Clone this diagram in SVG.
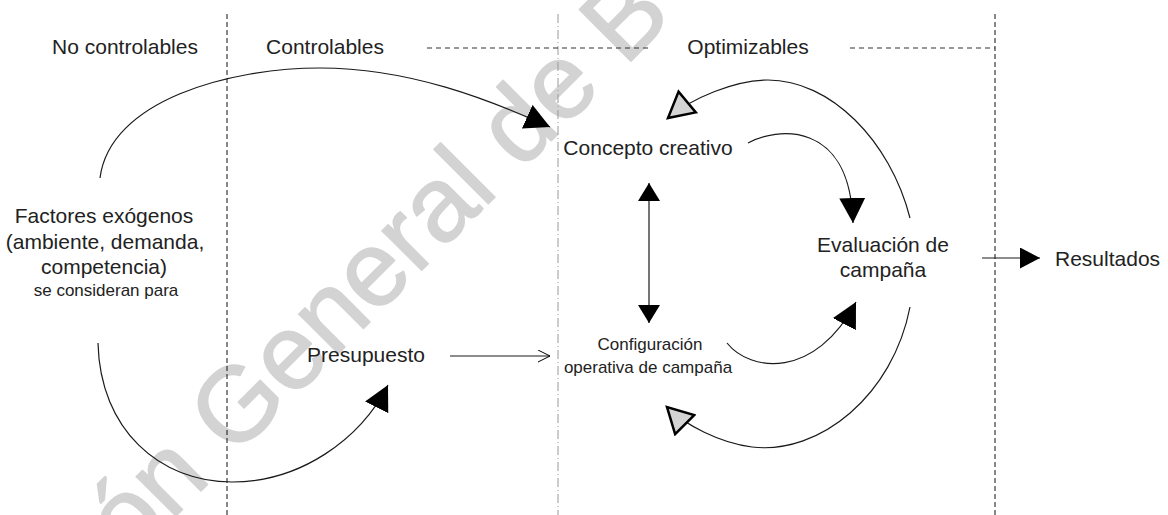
<svg xmlns="http://www.w3.org/2000/svg" width="1168" height="515" viewBox="0 0 1168 515">
<style>
  .lbl { font-family: "Liberation Sans", Arial, sans-serif; font-size: 21px; fill: #222; }
  .sm { font-size: 17px; }
  .mid { text-anchor: middle; }
  .wm { font-family: "Liberation Sans", Arial, sans-serif; font-size: 106px; fill: #d3d3d3; stroke: #d3d3d3; stroke-width: 1.5; stroke-linejoin: round; }
  .div { fill: none; stroke: #111; stroke-width: 1; stroke-dasharray: 5 3; }
  .dd { fill: none; stroke: #999; stroke-width: 1; stroke-dasharray: 9 3 1 3; }
  .hd { fill: none; stroke: #333; stroke-width: 1; stroke-dasharray: 5 4; }
  .c { fill: none; stroke: #1a1a1a; stroke-width: 1.2; }
</style>
<defs>
  <marker id="big" markerUnits="userSpaceOnUse" viewBox="0 0 25 26" markerWidth="25" markerHeight="26" refX="25" refY="13" orient="auto">
    <path d="M0,0 L25,13 L0,26 z" fill="#000"/>
  </marker>
  <marker id="small" markerUnits="userSpaceOnUse" viewBox="0 0 18 22" markerWidth="18" markerHeight="22" refX="18" refY="11" orient="auto-start-reverse">
    <path d="M0,0 L18,11 L0,22 z" fill="#000"/>
  </marker>
  <marker id="res" markerUnits="userSpaceOnUse" viewBox="0 0 20 21" markerWidth="20" markerHeight="21" refX="20" refY="10.5" orient="auto">
    <path d="M0,0 L20,10.5 L0,21 z" fill="#000"/>
  </marker>
  <marker id="hollow" markerUnits="userSpaceOnUse" viewBox="-2 -2 30 31" markerWidth="30" markerHeight="31" refX="25" refY="13.5" orient="auto">
    <path d="M0,0 L25,13.5 L0,27 z" fill="#d4d4d4" stroke="#000" stroke-width="2.5" stroke-linejoin="miter"/>
  </marker>
  <marker id="open" markerUnits="userSpaceOnUse" viewBox="0 0 13 13" markerWidth="13" markerHeight="13" refX="12" refY="6.5" orient="auto">
    <path d="M0,0.5 L12,6.5 L0,12.5" fill="none" stroke="#000" stroke-width="1"/>
  </marker>
</defs>

<rect width="1168" height="515" fill="#fff"/>

<g id="watermark">
  <text class="wm" transform="translate(129,563) rotate(-45)">ón General de B</text>
</g>

<g id="dividers">
  <line class="div" x1="227" y1="14" x2="227" y2="515"/>
  <line class="dd" x1="558" y1="14" x2="558" y2="515"/>
  <line class="div" x1="995" y1="14" x2="995" y2="515"/>
  <line class="hd" x1="427" y1="48" x2="648" y2="48"/>
  <line class="hd" x1="850" y1="48" x2="995" y2="48"/>
</g>

<g id="connectors">
  <path class="c" d="M100,178 C110,100 230,68 320,68 C410,68 490,100 550,127" marker-end="url(#big)"/>
  <path class="c" d="M98,343 C100,430 160,482 232,482 C300,482 360,440 388,385" marker-end="url(#big)"/>
  <path class="c" d="M450,356 L550,356" marker-end="url(#open)"/>
  <path class="c" d="M649,183 L649,323" marker-start="url(#small)" marker-end="url(#small)"/>
  <path class="c" d="M748,143 C775,128 850,118 853,223" marker-end="url(#big)"/>
  <path class="c" d="M727,343 C750,372 815,380 856,302" marker-end="url(#big)"/>
  <path class="c" d="M910,218 C890,140 830,80 768,80 C735,80 692,98 668,118" marker-end="url(#hollow)"/>
  <path class="c" d="M910,307 C893,395 820,455 752,447 C720,443 685,425 667,407" marker-end="url(#hollow)"/>
  <path class="c" d="M982,258 L1040,258" marker-end="url(#res)"/>
</g>

<g id="zone-no-controlables"><text class="lbl mid" x="125" y="54">No controlables</text></g>
<g id="zone-controlables"><text class="lbl mid" x="325" y="54">Controlables</text></g>
<g id="zone-optimizables"><text class="lbl mid" x="748" y="54">Optimizables</text></g>

<g id="factores">
  <text class="lbl mid" x="104" y="223">Factores exógenos</text>
  <text class="lbl mid" x="105" y="249">(ambiente, demanda,</text>
  <text class="lbl mid" x="104" y="274">competencia)</text>
  <text class="lbl sm mid" x="106" y="296">se consideran para</text>
</g>
<g id="presupuesto"><text class="lbl mid" x="366" y="362">Presupuesto</text></g>
<g id="concepto"><text class="lbl mid" x="648" y="155">Concepto creativo</text></g>
<g id="configuracion">
  <text class="lbl sm mid" x="650" y="350">Configuración</text>
  <text class="lbl sm mid" x="648" y="373">operativa de campaña</text>
</g>
<g id="evaluacion">
  <text class="lbl mid" x="883" y="252">Evaluación de</text>
  <text class="lbl mid" x="883" y="277">campaña</text>
</g>
<g id="resultados"><text class="lbl" x="1055" y="266">Resultados</text></g>
</svg>
